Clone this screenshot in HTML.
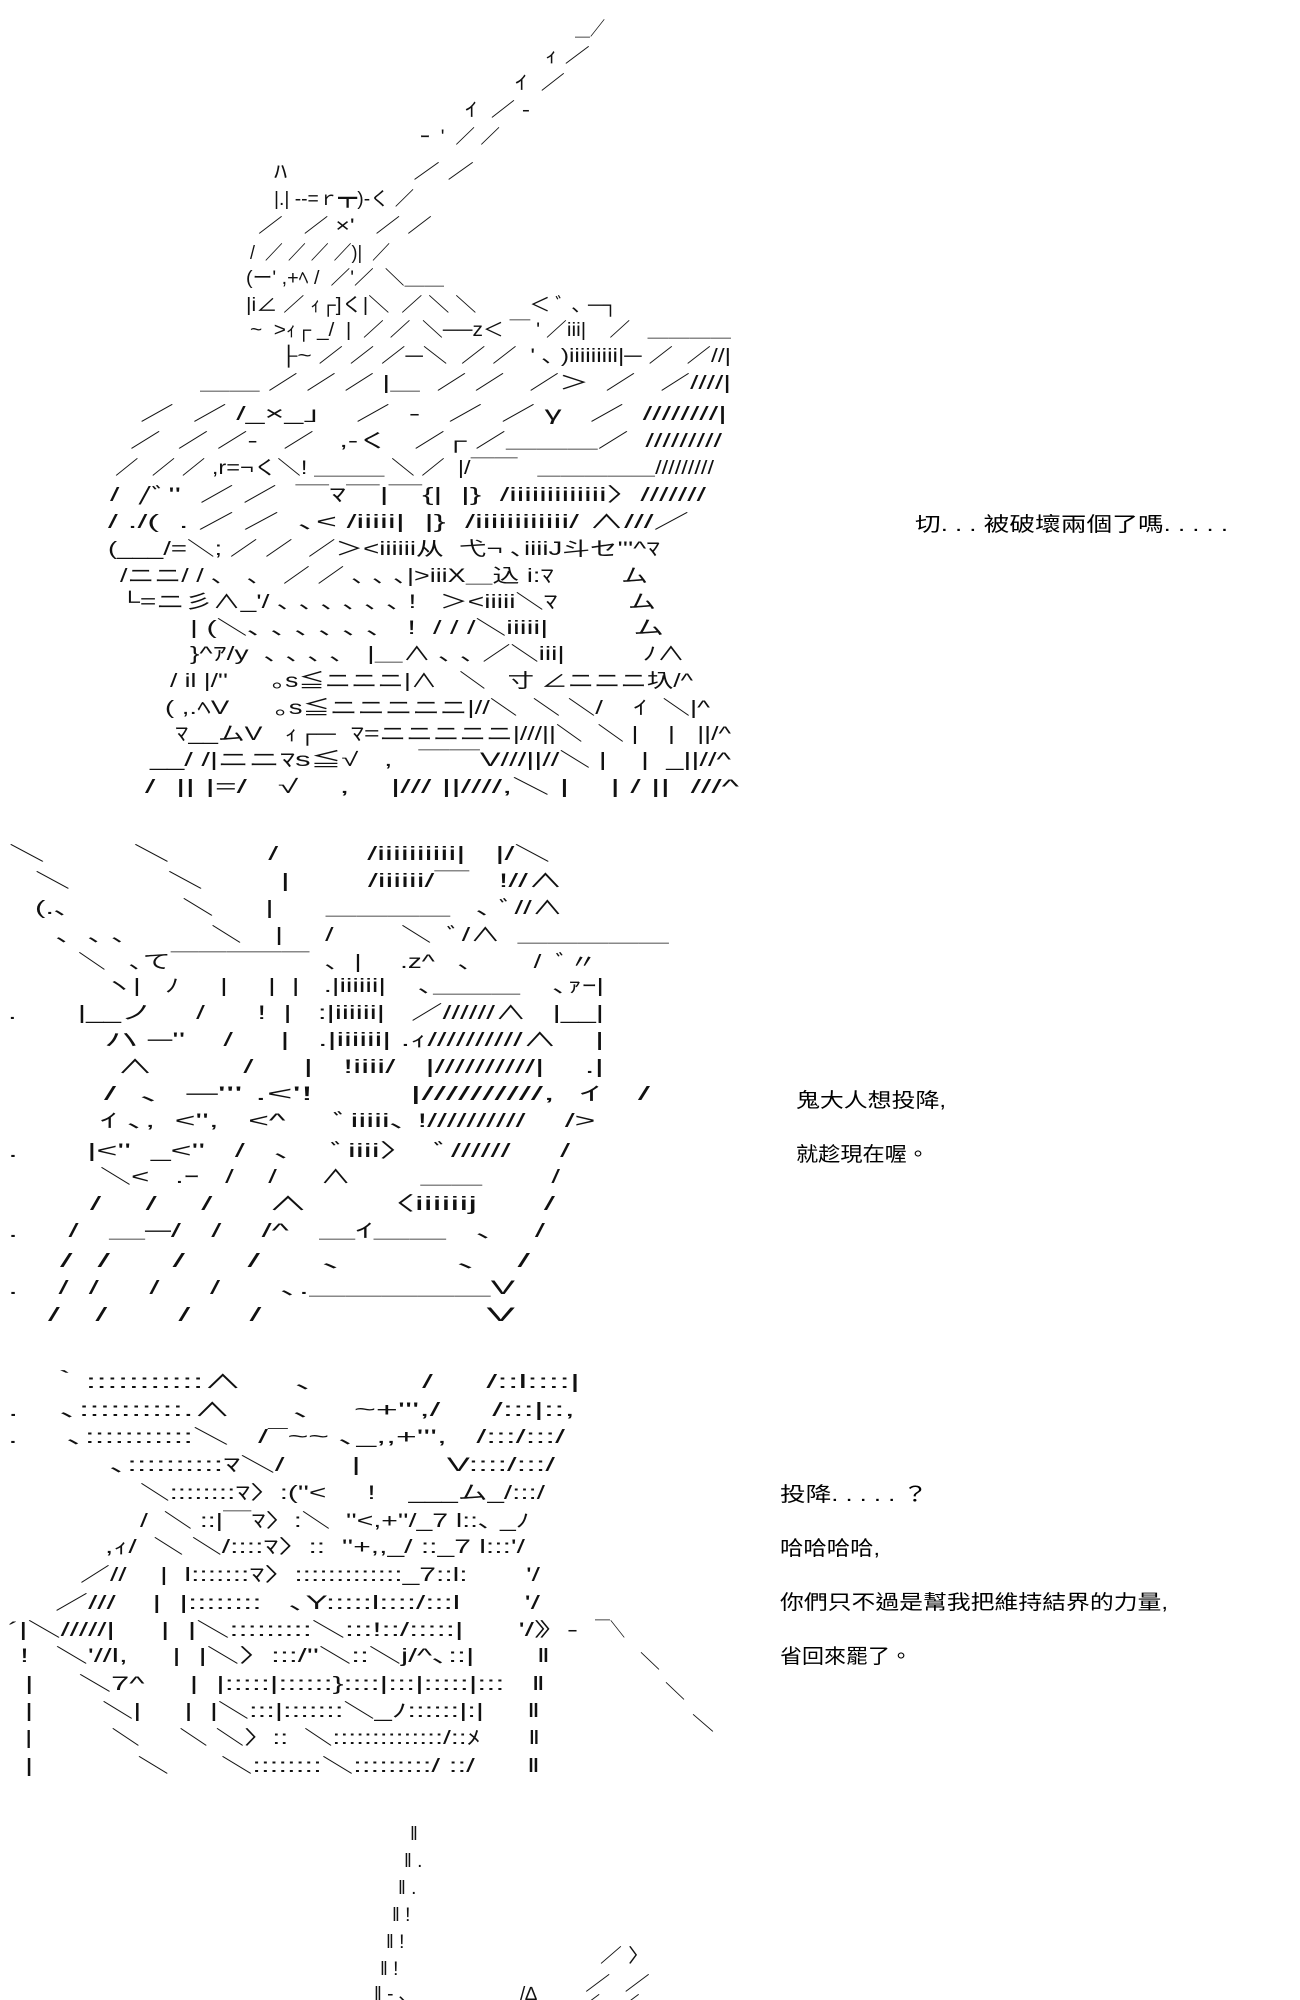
<!DOCTYPE html>
<html><head><meta charset="utf-8"><style>
html,body{margin:0;padding:0;background:#fff;}
svg{display:block}
text{font-family:"Liberation Sans","Noto Sans CJK JP",sans-serif;font-size:19px;fill:#111;white-space:pre}
.d{font-family:"Liberation Sans","Noto Sans CJK TC",sans-serif;font-size:20px;fill:#000}
</style></head><body>
<svg width="1300" height="2000" viewBox="0 0 1300 2000" xmlns="http://www.w3.org/2000/svg" xml:space="preserve">
<!-- panel 1 -->
<text x="575" y="35" textLength="30" lengthAdjust="spacingAndGlyphs">＿／</text>
<text x="545" y="62" textLength="45" lengthAdjust="spacingAndGlyphs">ｨ ／</text>
<text x="515" y="89" textLength="50" lengthAdjust="spacingAndGlyphs">ｲ  ／</text>
<text x="465" y="116" textLength="65" lengthAdjust="spacingAndGlyphs">ｲ  ／ ‐</text>
<text x="420" y="143" textLength="80" lengthAdjust="spacingAndGlyphs">ｰ  '  ／ ／</text>
<text x="274" y="178" textLength="200" lengthAdjust="spacingAndGlyphs">ﾊ                 ／ ／</text>
<text x="274" y="205" textLength="140" lengthAdjust="spacingAndGlyphs">|.| ‐‐=ｒ┳)‐く ／</text>
<text x="258" y="232" textLength="174" lengthAdjust="spacingAndGlyphs">／   ／ ×'   ／ ／</text>
<text x="250" y="259" textLength="140" lengthAdjust="spacingAndGlyphs">/  ／ ／ ／ ／)|  ／</text>
<text x="246" y="284" textLength="198" lengthAdjust="spacingAndGlyphs">(ー' ,+ﾍ /  ／'／  ＼＿＿</text>
<text x="246" y="311" textLength="372" lengthAdjust="spacingAndGlyphs">|i∠ ／ ｨ┌]く|＼  ／ ＼ ＼         ＜ ﾞ ､ ─┐</text>
<text x="250" y="336" textLength="481" lengthAdjust="spacingAndGlyphs">~  &gt;ｨ┌ _/  |  ／ ／  ＼──z＜ ￣ ' ／iii|    ／   ＿＿＿＿</text>
<text x="280" y="362" textLength="451" lengthAdjust="spacingAndGlyphs">├~ ／ ／ ／─＼  ／ ／  ' ､ )iiiiiiiii|─ ／  ／//|</text>
<text x="200" y="389" textLength="531" lengthAdjust="spacingAndGlyphs">＿＿ ／ ／ ／ |＿  ／ ／   ／＞  ／   ／////|</text>
<text x="140" y="420" textLength="587" lengthAdjust="spacingAndGlyphs">／  ／ /_×_」  ／  -   ／  ／ γ   ／  ////////|</text>
<text x="130" y="447" textLength="592" lengthAdjust="spacingAndGlyphs">／  ／ ／-   ／   ,-く   ／┌ ／＿＿＿／  /////////</text>
<text x="115" y="474" textLength="599" lengthAdjust="spacingAndGlyphs">／  ／ ／ ,r=¬く＼! ＿＿＿ ＼ ／  |/￣￣   ＿＿＿＿＿/////////</text>
<text x="110" y="501" textLength="596" lengthAdjust="spacingAndGlyphs">/  /ﾞ''  ／ ／  ￣ﾏ￣|￣{|  |}  /iiiiiiiiiiiii〉///////</text>
<text x="108" y="528" textLength="581" lengthAdjust="spacingAndGlyphs">/ ./(  . ／ ／  ､&lt; /iiiii|  |}  /iiiiiiiiiiii/ ∧///／</text>
<text x="108" y="555" textLength="552" lengthAdjust="spacingAndGlyphs">(___/=＼; ／ ／  ／＞&lt;iiiiii从  弋¬ ､iiiiJ斗セ'''^ﾏ</text>
<text x="120" y="582" textLength="528" lengthAdjust="spacingAndGlyphs">/ニニ/ / ､   ､   ／ ／ ､ ､ ､|&gt;iiiX＿込 i:ﾏ         ム</text>
<text x="120" y="608" textLength="536" lengthAdjust="spacingAndGlyphs">└=ニ彡∧_'/ ､ ､ ､ ､ ､ ､ !   ＞&lt;iiiii＼ﾏ         ム</text>
<text x="190" y="634" textLength="474" lengthAdjust="spacingAndGlyphs">| (＼､ ､ ､ ､ ､ ､   !  / / /＼iiiii|          ム</text>
<text x="190" y="660" textLength="495" lengthAdjust="spacingAndGlyphs">}^ｱ/y  ､ ､ ､ ､   |＿∧ ､ ､ ／＼iii|          ﾉ∧</text>
<text x="170" y="687" textLength="523" lengthAdjust="spacingAndGlyphs">/ il |/''      ｡s≦ニニニ|∧   ＼   寸 ∠ニニニ圦/^</text>
<text x="165" y="714" textLength="545" lengthAdjust="spacingAndGlyphs">( ,.ﾍV      ｡s≦ニニニニニ|//＼  ＼ ＼/    ｲ  ＼|^</text>
<text x="175" y="740" textLength="556" lengthAdjust="spacingAndGlyphs">ﾏ__ムV   ｨ┌─  ﾏ=ニニニニニ|///||＼  ＼ |    |   ||/^</text>
<text x="150" y="766" textLength="581" lengthAdjust="spacingAndGlyphs">__/ /|ニニﾏs≦√   ,   ￣￣V///||//＼ |    |  _||//^</text>
<text x="145" y="793" textLength="594" lengthAdjust="spacingAndGlyphs">/  || |=/   √    ,    |/// ||////,＼ |    | / ||  ///^</text>
<!-- panel 2 -->
<text x="9" y="860" textLength="541" lengthAdjust="spacingAndGlyphs">＼         ＼          /         /iiiiiiiiii|   |/＼</text>
<text x="35" y="887" textLength="528" lengthAdjust="spacingAndGlyphs">＼          ＼        |        /iiiiii/￣   !//∧</text>
<text x="35" y="914" textLength="528" lengthAdjust="spacingAndGlyphs">(.､             ＼      |      ＿＿＿＿   ､ ﾞ//∧</text>
<text x="56" y="941" textLength="613" lengthAdjust="spacingAndGlyphs">､  ､ ､          ＼    |     /        ＼  ﾞ/∧  ＿＿＿＿＿</text>
<text x="78" y="968" textLength="519" lengthAdjust="spacingAndGlyphs">＼   ､て￣￣￣￣￣  ､  |     .z^   ､        /  ﾞ〃</text>
<text x="104" y="992" textLength="500" lengthAdjust="spacingAndGlyphs">ヽ|   ﾉ     |     |  |   .|iiiiii|    ､＿＿＿    ､ｧｰ|</text>
<text x="8" y="1019" textLength="596" lengthAdjust="spacingAndGlyphs">.       |__ノ     /      !  |   :|iiiiii|   ／//////∧   |__|</text>
<text x="104" y="1046" textLength="500" lengthAdjust="spacingAndGlyphs">ハ ─''    /     |   .|iiiiii| .ｨ//////////∧    |</text>
<text x="117" y="1073" textLength="487" lengthAdjust="spacingAndGlyphs">∧         /     |   !iiii/   |//////////|    .|</text>
<text x="104" y="1100" textLength="546" lengthAdjust="spacingAndGlyphs">/  ､  ─''' .&lt;'!        |//////////,  ｲ   /</text>
<text x="100" y="1127" textLength="515" lengthAdjust="spacingAndGlyphs">ｲ ､,  &lt;'',   &lt;^     ﾞiiiii､ !//////////    /&gt;  </text>
<text x="8" y="1157" textLength="562" lengthAdjust="spacingAndGlyphs">.       |&lt;''  _&lt;''   /   ､    ﾞiiii〉  ﾞ//////     /</text>
<text x="100" y="1183" textLength="460" lengthAdjust="spacingAndGlyphs">＼&lt;   .ｰ   /    /     ∧        ＿＿        /</text>
<text x="90" y="1210" textLength="465" lengthAdjust="spacingAndGlyphs">/    /    /     ∧      〈iiiiiij      /</text>
<text x="8" y="1237" textLength="537" lengthAdjust="spacingAndGlyphs">.     /   ＿─/   /    /^   ＿ｲ＿＿   ､    /</text>
<text x="60" y="1267" textLength="470" lengthAdjust="spacingAndGlyphs">/  /     /     /     ､         ､   /</text>
<text x="8" y="1294" textLength="507" lengthAdjust="spacingAndGlyphs">.    /  /     /     /      ､.＿＿＿＿＿V</text>
<text x="48" y="1321" textLength="467" lengthAdjust="spacingAndGlyphs">/   /      /     /                   V</text>
<!-- panel 3 -->
<text x="47" y="1388" textLength="533" lengthAdjust="spacingAndGlyphs">｀:::::::::::∧     ､          /     /::l::::|</text>
<text x="8" y="1416" textLength="567" lengthAdjust="spacingAndGlyphs">.    ､::::::::::.∧      ､    ~+''',/     /:::|::,</text>
<text x="8" y="1443" textLength="557" lengthAdjust="spacingAndGlyphs">.     ､:::::::::::＼   /¯~~ ､_,,+''',   /:::/:::/</text>
<text x="110" y="1471" textLength="445" lengthAdjust="spacingAndGlyphs">､::::::::::ﾏ＼/       |         V::::/:::/</text>
<text x="140" y="1499" textLength="405" lengthAdjust="spacingAndGlyphs">＼::::::::ﾏ〉:(''&lt;     !    ___ム_/:::/</text>
<text x="140" y="1527" textLength="390" lengthAdjust="spacingAndGlyphs">/  ＼ ::|￣ﾏ〉:＼  ''&lt;,+''/_7 l::､ _ﾉ</text>
<text x="105" y="1553" textLength="420" lengthAdjust="spacingAndGlyphs">,ｨ/  ＼ ＼/::::ﾏ〉::  ''+,,_/ ::_7 l:::'/</text>
<text x="80" y="1581" textLength="460" lengthAdjust="spacingAndGlyphs">／//    |  l:::::::ﾏ〉:::::::::::::_7::l:       '/</text>
<text x="55" y="1609" textLength="485" lengthAdjust="spacingAndGlyphs">／///    |  |::::::::   ､Y:::::l::::/:::l       '/</text>
<text x="8" y="1636" textLength="570" lengthAdjust="spacingAndGlyphs">´|＼/////|     |  |＼:::::::::＼:::!::/:::::|      '/》-</text>
<text x="595" y="1636" textLength="30" lengthAdjust="spacingAndGlyphs">￣＼</text>
<text x="20" y="1662" textLength="530" lengthAdjust="spacingAndGlyphs">!   ＼'//l,     |  |＼〉:::/''＼::＼j/^､::|       ‖</text>
<text x="640" y="1668" textLength="20" lengthAdjust="spacingAndGlyphs">＼</text>
<text x="25" y="1690" textLength="520" lengthAdjust="spacingAndGlyphs">|     ＼7^     |  |:::::|::::::}::::|:::|:::::|:::   ‖</text>
<text x="665" y="1698" textLength="20" lengthAdjust="spacingAndGlyphs">＼</text>
<text x="25" y="1717" textLength="515" lengthAdjust="spacingAndGlyphs">|        ＼|     |  |＼:::|:::::::＼_ﾉ::::::|:|     ‖</text>
<text x="692" y="1730" textLength="22" lengthAdjust="spacingAndGlyphs">＼</text>
<text x="25" y="1744" textLength="515" lengthAdjust="spacingAndGlyphs">|          ＼     ＼ ＼〉::  ＼::::::::::::::/::ﾒ      ‖</text>
<text x="25" y="1772" textLength="515" lengthAdjust="spacingAndGlyphs">|            ＼      ＼::::::::＼:::::::::/ ::/      ‖</text>
<!-- panel 4 -->
<text x="410" y="1840">‖</text>
<text x="404" y="1867">‖ .</text>
<text x="398" y="1894">‖ .</text>
<text x="392" y="1921">‖ !</text>
<text x="386" y="1948">‖ !</text>
<text x="380" y="1975">‖ !</text>
<text x="374" y="2000">‖ ‐ ､</text>
<text x="520" y="2000">/∆</text>
<text x="600" y="1962" textLength="50" lengthAdjust="spacingAndGlyphs">／ 〉</text>
<text x="585" y="1990" textLength="65" lengthAdjust="spacingAndGlyphs">／  ／</text>
<text x="575" y="2010" textLength="65" lengthAdjust="spacingAndGlyphs">／  ／</text>
<!-- dialogue -->
<text class="d" x="915" y="531" textLength="313" lengthAdjust="spacingAndGlyphs">切. . . 被破壞兩個了嗎. . . . .</text>
<text class="d" x="796" y="1107" textLength="150" lengthAdjust="spacingAndGlyphs">鬼大人想投降,</text>
<text class="d" x="796" y="1161" textLength="133" lengthAdjust="spacingAndGlyphs">就趁現在喔。</text>
<text class="d" x="780" y="1501" textLength="148" lengthAdjust="spacingAndGlyphs">投降. . . . . ？</text>
<text class="d" x="780" y="1555" textLength="100" lengthAdjust="spacingAndGlyphs">哈哈哈哈,</text>
<text class="d" x="780" y="1609" textLength="388" lengthAdjust="spacingAndGlyphs">你們只不過是幫我把維持結界的力量,</text>
<text class="d" x="780" y="1663" textLength="132" lengthAdjust="spacingAndGlyphs">省回來罷了。</text>
</svg>
</body></html>
